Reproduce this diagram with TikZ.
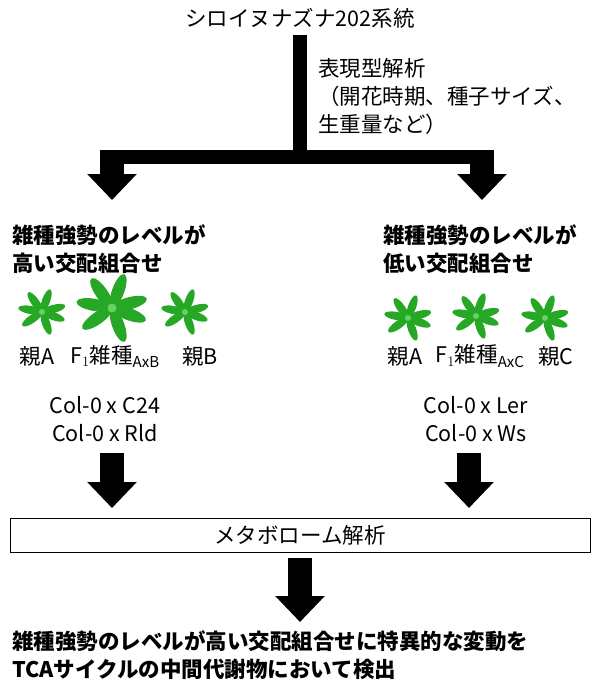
\documentclass[tikz,border=0pt]{standalone}
\usepackage{fontspec}
\setmainfont{Noto Sans CJK JP}
\usetikzlibrary{arrows.meta,positioning}

\tikzset{
  txt/.style={font=\fontsize{21.5}{28}\selectfont,inner sep=0pt,align=left},
  head/.style={txt,font=\fontsize{21.5}{28}\selectfont\bfseries},
  fat/.style={line width=24pt,-{Triangle[width=48pt,length=26pt]}},
  bar/.style={line width=14pt},
  leaf/.style={fill=green!60!black!85,draw=none},
  rosette/.pic={
    \foreach \a in {15,70,125,170,215,290,340}
      \fill[leaf,rotate=\a] (10,0) ellipse (10 and 3.4);
    \fill[green!70!black!60] (0,0) circle (2.5);
  }
}

\begin{document}
\begin{tikzpicture}[x=1pt,y=-1pt]
  \useasboundingbox (0,0) rectangle (600,695);

  \node[txt] (lines) at (300,18) {シロイヌナズナ202系統};
  \coordinate (split) at (300,157);
  \coordinate (ltip) at (112,200);
  \coordinate (rtip) at (482,200);
  \node[txt,anchor=north west] (pheno) at (318,58)
    {表現型解析\\（開花時期、種子サイズ、\\生重量など）};

  \draw[bar] (lines.south) ++(0,7) -- (split);
  \draw[bar] (100,157) -- (494,157);
  \draw[fat] (112,150) -- (ltip);
  \draw[fat] (482,150) -- (rtip);

  % high heterosis
  \node[head,anchor=north west] (high) at (12,224) {雑種強勢のレベルが\\高い交配組合せ};
  \pic[scale=1.2] at (42,312) {rosette};
  \pic[scale=1.8] at (112,308) {rosette};
  \pic[scale=1.2] at (185,312) {rosette};
  \node[txt] (pa1) at (37,356) {親A};
  \node[txt] (f1ab) at (115,356) {F$_1$雑種$_{\mathrm{AxB}}$};
  \node[txt] (pb) at (200,356) {親B};
  \node[txt,align=center] (crossL) at (105,419) {Col-0 x C24\\Col-0 x Rld};

  % low heterosis
  \node[head,anchor=north west] (low) at (383,224) {雑種強勢のレベルが\\低い交配組合せ};
  \pic[scale=1.2] at (408,318) {rosette};
  \pic[scale=1.2] at (476,316) {rosette};
  \pic[scale=1.2] at (545,318) {rosette};
  \node[txt] (pa2) at (405,356) {親A};
  \node[txt] (f1ac) at (480,356) {F$_1$雑種$_{\mathrm{AxC}}$};
  \node[txt] (pc) at (556,356) {親C};
  \node[txt,align=center] (crossR) at (476,419) {Col-0 x Ler\\Col-0 x Ws};

  \node[txt,draw,minimum width=580pt,minimum height=34pt,align=center] (meta) at (300,535) {メタボローム解析};
  \draw[fat] (112,453) -- (112,508);
  \draw[fat] (469,453) -- (469,508);
  \draw[fat] (meta.south) ++(0,6) -- (300,622);

  \node[head,anchor=north west] (result) at (12,630)
    {雑種強勢のレベルが高い交配組合せに特異的な変動を\\TCAサイクルの中間代謝物において検出};
\end{tikzpicture}
\end{document}
